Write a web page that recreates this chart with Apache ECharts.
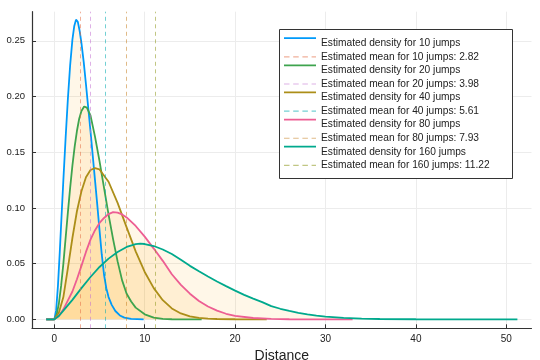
<!DOCTYPE html>
<html><head><meta charset="utf-8">
<script src="https://cdn.jsdelivr.net/npm/echarts@6/dist/echarts.min.js"></script>
<style>html,body{margin:0;padding:0;background:#fff}#c{width:540px;height:360px}</style>
</head><body><div id="c"></div>
<script>
// ---- data ----
const jumps = [10, 20, 40, 80, 160];
const meanValues = [2.82, 3.98, 5.61, 7.93, 11.22];
const xTicks = [0, 10, 20, 30, 40, 50];
const yTicks = [0, 0.05, 0.10, 0.15, 0.20, 0.25];

const dist10 = [-0.9, 0, 0.2, 0.4, 0.6, 0.8, 1, 1.25, 1.5, 1.75, 2, 2.2, 2.4, 2.6, 2.8, 3, 3.25, 3.5, 3.75, 4, 4.25, 4.5, 4.75, 5, 5.25, 5.5, 5.75, 6, 6.35, 6.75, 7.25, 7.75, 8.5, 9.88];
const dens10 = [0, 0, 0.008, 0.03, 0.06, 0.093, 0.125, 0.163, 0.198, 0.228, 0.251, 0.263, 0.269, 0.267, 0.259, 0.248, 0.231, 0.211, 0.19, 0.169, 0.147, 0.125, 0.103, 0.08, 0.058, 0.04, 0.028, 0.02, 0.013, 0.0075, 0.0035, 0.0015, 0.0004, 0];

const dist20 = [-0.9, 0, 0.25, 0.5, 0.75, 1, 1.25, 1.5, 1.75, 2, 2.25, 2.5, 2.75, 3, 3.3, 3.6, 4, 4.5, 5, 5.5, 6, 6.5, 7, 7.5, 8, 8.5, 9, 10, 11, 12, 13, 16.3];
const dens20 = [0, 0, 0.004, 0.014, 0.03, 0.05, 0.073, 0.096, 0.118, 0.138, 0.155, 0.169, 0.18, 0.187, 0.191, 0.19, 0.183, 0.164, 0.142, 0.118, 0.094, 0.072, 0.052, 0.035, 0.023, 0.016, 0.0105, 0.0045, 0.0016, 0.0005, 0.0001, 0];

const dist40 = [-0.9, 0, 0.5, 1, 1.5, 2, 2.5, 3, 3.5, 4, 4.5, 5, 6, 7, 8, 9, 10, 11, 12, 13, 14, 15, 16, 17, 18, 20, 23.5];
const dens40 = [0, 0, 0.006, 0.02, 0.046, 0.073, 0.097, 0.115, 0.1275, 0.134, 0.1357, 0.1345, 0.1235, 0.1045, 0.0825, 0.061, 0.0425, 0.028, 0.0172, 0.0098, 0.0053, 0.0027, 0.0013, 0.0006, 0.0003, 0.0001, 0];

const dist80 = [-0.9, 0, 0.5, 1, 1.5, 2, 2.5, 3, 3.5, 4, 4.5, 5, 5.5, 6, 6.5, 7, 7.5, 8, 9, 10, 11, 12, 13, 14, 15, 16, 17, 18, 19, 20, 22, 24, 26, 33];
const dens80 = [0, 0, 0.003, 0.009, 0.017, 0.025, 0.036, 0.048, 0.0605, 0.0715, 0.08, 0.0865, 0.091, 0.0945, 0.0962, 0.0958, 0.0942, 0.0915, 0.0838, 0.0742, 0.0635, 0.0525, 0.0405, 0.031, 0.023, 0.0165, 0.0115, 0.0078, 0.005, 0.0032, 0.0012, 0.0004, 0.0001, 0];

const dist160 = [-0.9, 0, 0.5, 1, 2, 3, 4, 5, 6, 7, 8, 9, 9.5, 10, 11, 12, 13, 14, 15, 16, 17, 18, 19, 20, 21, 22, 23, 24, 25, 26, 27, 28, 29, 30, 32, 34, 36, 40, 45, 51.23];
const dens160 = [0, 0, 0.003, 0.0078, 0.0175, 0.028, 0.038, 0.047, 0.0545, 0.0605, 0.065, 0.0675, 0.0679, 0.0676, 0.0658, 0.0627, 0.0587, 0.0535, 0.048, 0.0432, 0.0385, 0.034, 0.0298, 0.0258, 0.022, 0.0186, 0.0155, 0.0118, 0.0095, 0.0075, 0.0058, 0.0044, 0.0033, 0.0025, 0.0013, 0.0007, 0.0003, 0.0001, 0, 0];

// ---- styling ----
const distances = [dist10, dist20, dist40, dist80, dist160];
const densities = [dens10, dens20, dens40, dens80, dens160];
const densityColors = ['#009AFA', '#3EA44E', '#AC8E18', '#ED5E93', '#00A98D'];
const meanColors = ['#E36F47', '#C371D2', '#00AAAE', '#C68225', '#8E971D'];
const FONT = 'Liberation Sans, Arial, sans-serif';
const XMIN = -2.47, XMAX = 52.79, YMIN = -0.00804, YMAX = 0.2761;
const MEAN_ALPHA = 0.55;

const lineIcon = 'path://M0,0H0.01V0.01H0Z M0,0H32V1.8H0Z M0,11.99H0.01V12H0Z';
const dashIcon = 'path://M0,0H0.01V0.01H0Z M0,5.5H5.5V6.6H0Z M9.2,5.5H14.7V6.6H9.2Z M18.4,5.5H23.9V6.6H18.4Z M27.6,5.5H32V6.6H27.6Z M0,11.99H0.01V12H0Z';

const series = [];
const legendData = [];
jumps.forEach((n, i) => {
  const dName = 'Estimated density for ' + n + ' jumps';
  const mName = 'Estimated mean for ' + n + ' jumps: ' + meanValues[i].toFixed(2);
  series.push({
    name: dName, type: 'line', symbol: 'none', smooth: false,
    color: densityColors[i],
    data: distances[i].map((x, k) => [x, densities[i][k]]),
    lineStyle: { color: densityColors[i], width: 1.8 },
    areaStyle: { color: 'rgba(255,165,0,0.13)', origin: 0 },
    z: 2
  });
  legendData.push({ name: dName, icon: lineIcon });
  series.push({
    name: mName, type: 'line', symbol: 'none', data: [],
    color: meanColors[i],
    markLine: {
      silent: true, symbol: ['none', 'none'], animation: false,
      label: { show: false },
      lineStyle: { color: meanColors[i], width: 1, type: [4, 3.5], opacity: MEAN_ALPHA },
      emphasis: { disabled: true },
      data: [{ xAxis: meanValues[i] }]
    },
    z: 2
  });
  legendData.push({ name: mName, icon: dashIcon, itemStyle: { opacity: MEAN_ALPHA } });
});

const chart = echarts.init(document.getElementById('c'), null, { renderer: 'canvas' });
chart.setOption({
  animation: false,
  backgroundColor: '#ffffff',
  textStyle: { fontFamily: FONT },
  grid: { left: 32, right: 8.5, top: 11.7, bottom: 31.7, containLabel: false, outerBoundsMode: 'none' },
  xAxis: {
    type: 'value', min: XMIN, max: XMAX,
    name: 'Distance', nameLocation: 'middle', nameGap: 15,
    nameTextStyle: { fontSize: 14, color: '#222', fontFamily: FONT },
    axisLine: { show: true, onZero: false, lineStyle: { color: '#333', width: 1.2 } },
    axisTick: { show: true, inside: true, length: 4, lineStyle: { color: '#333' }, customValues: xTicks },
    axisLabel: { fontSize: 10, color: '#222', margin: 6, customValues: xTicks, fontFamily: FONT },
    splitLine: { show: true, lineStyle: { color: '#ececec', width: 1 } }
  },
  yAxis: {
    type: 'value', min: YMIN, max: YMAX,
    axisLine: { show: true, onZero: false, lineStyle: { color: '#333', width: 1.2 } },
    axisTick: { show: true, inside: true, length: 4, lineStyle: { color: '#333' }, customValues: yTicks },
    axisLabel: { fontSize: 9.5, color: '#222', margin: 7, customValues: yTicks, fontFamily: FONT,
      formatter: v => v.toFixed(2) },
    splitLine: { show: true, lineStyle: { color: '#ececec', width: 1 } }
  },
  legend: {
    orient: 'vertical', left: 279, top: 29,
    padding: [8.3, 6, 7.7, 5],
    itemWidth: 32, itemHeight: 12, itemGap: 1.56,
    selectedMode: false, z: 10,
    textStyle: { fontSize: 10.2, color: '#222', fontFamily: FONT, lineHeight: 12 },
    data: legendData
  },
  graphic: [{
    type: 'rect', z: 9, silent: true,
    shape: { x: 279.5, y: 29.5, width: 233, height: 149 },
    style: { fill: '#fff', stroke: '#333', lineWidth: 1 }
  }],
  series: series
});
</script>
</body></html>
